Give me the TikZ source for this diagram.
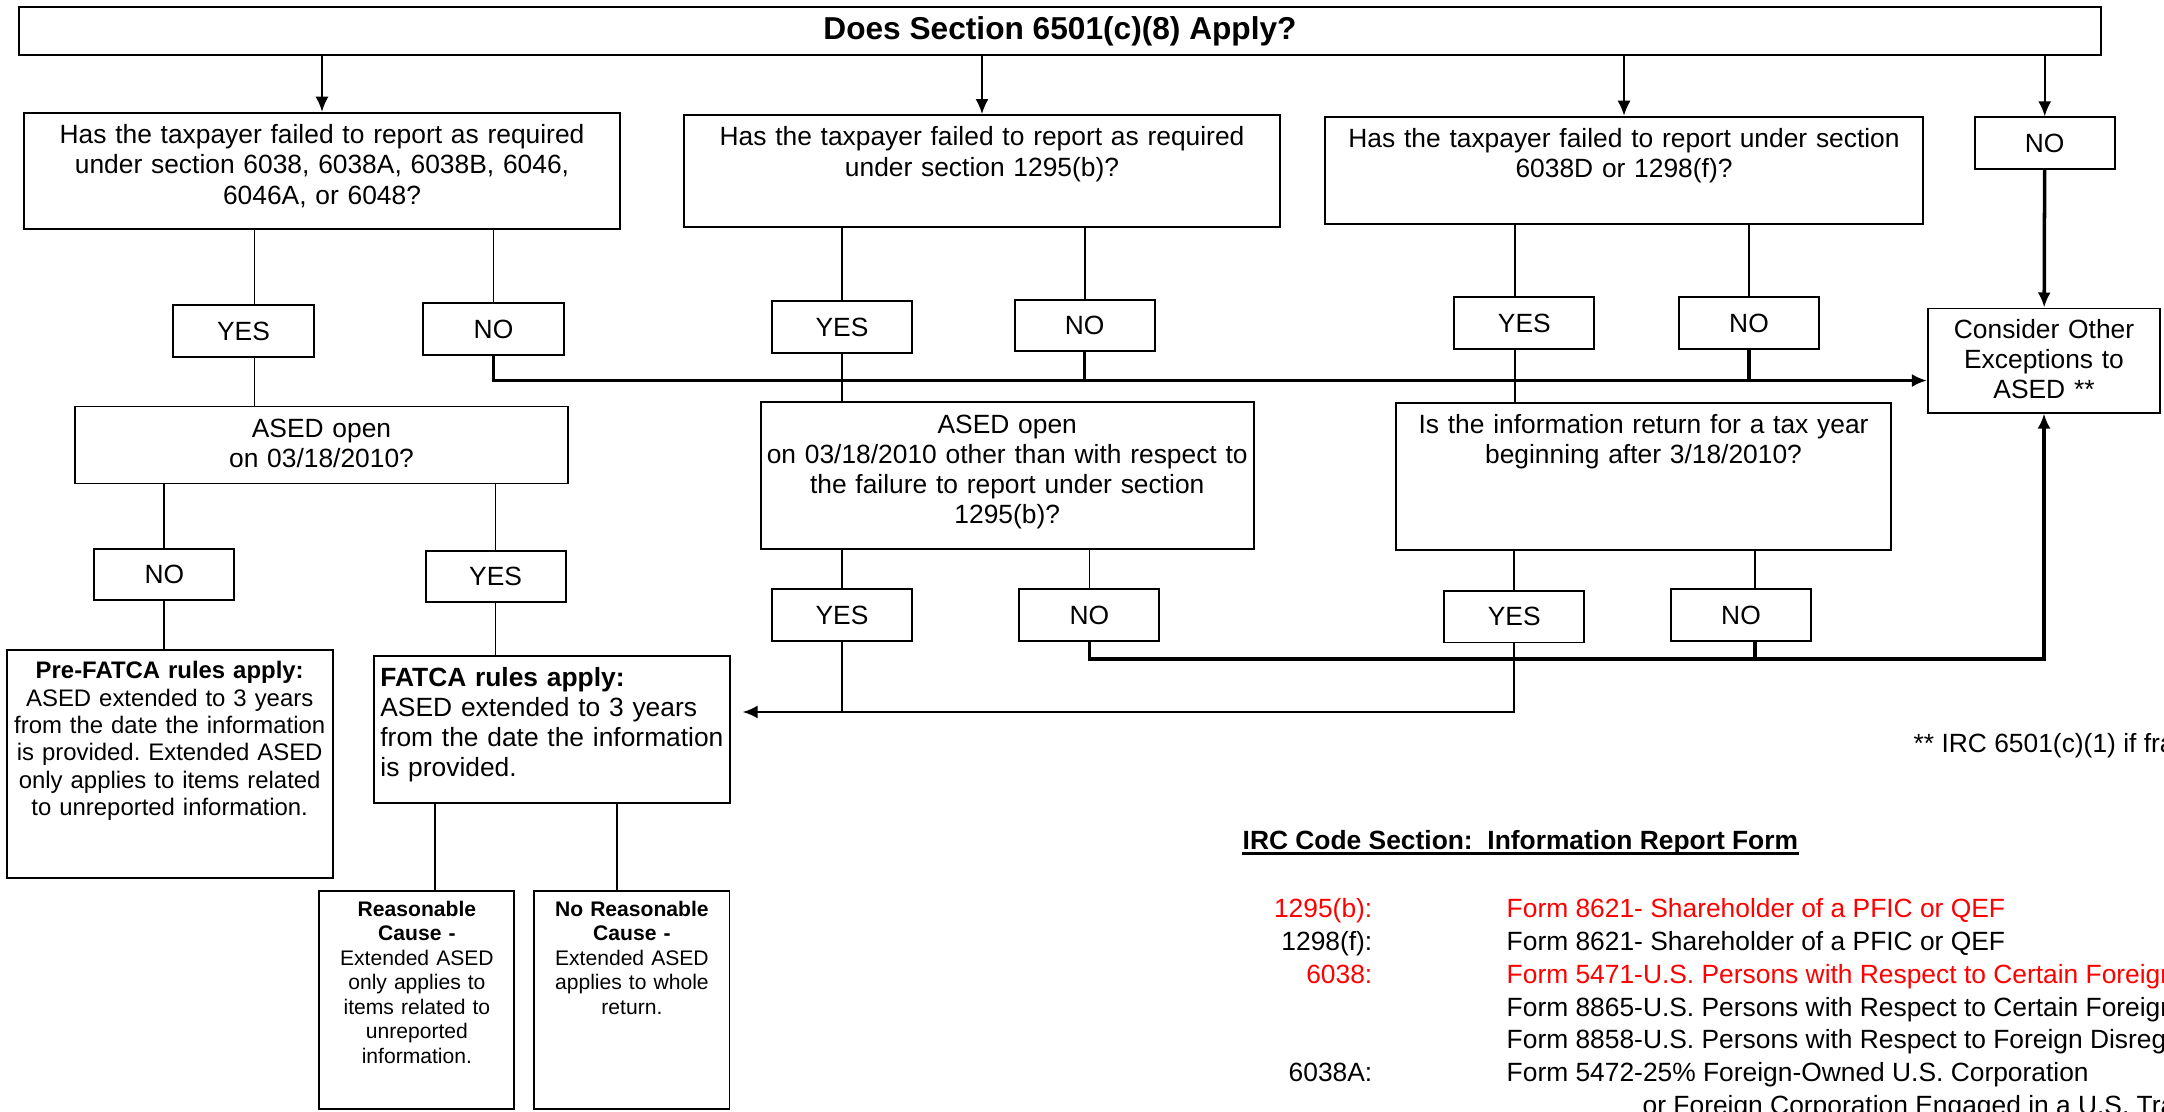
\documentclass[tikz,border=0pt]{standalone}
\usepackage{fontspec}
\setmainfont{Liberation Sans}
\usepackage{tikz}
\usetikzlibrary{arrows.meta}
\definecolor{formred}{RGB}{255,0,0}
\frenchspacing
\newcommand\boxfont{\fontsize{7.5}{8.6}\selectfont}
\newcommand\prefont{\fontsize{6.8}{7.8}\selectfont}
\newcommand\causefont{\fontsize{6}{6.95}\selectfont}
\tikzstyle{box} = [draw, line width=0.55pt, inner sep=0pt, align=center]
\tikzstyle{question} = [box, anchor=north, font=\boxfont, text height=0.31cm]
\tikzstyle{answer} = [box, font=\boxfont, minimum width=1.40cm, minimum height=0.515cm]
\tikzstyle{link} = [line width=0.5pt]
\tikzstyle{bus} = [line width=1pt]
\tikzstyle{listtext} = [inner sep=0pt, font=\boxfont]

\begin{document}
\begin{tikzpicture}[x=0.01cm, y=-0.01cm, >={Latex[length=0.15cm,width=0.13cm]}]
\useasboundingbox (0,0) rectangle (2164,1111);
\clip (0,0) rectangle (2164,1111);

% top level
\node[box, font=\fontsize{9}{10.8}\selectfont\bfseries, minimum width=20.80cm, minimum height=0.48cm] (title) at (1060,31) {Does Section 6501(c)(8) Apply?};
\node[question, text width=5.95cm, text depth=0.85cm] (q1) at (322,111.7) {Has the taxpayer failed to report as required\\under section 6038, 6038A, 6038B, 6046,\\6046A, or 6048?};
\node[question, text width=5.95cm, text depth=0.81cm] (q2) at (982,114) {Has the taxpayer failed to report as required\\under section 1295(b)?};
\node[question, text width=5.97cm, text depth=0.76cm] (q3) at (1624,115.7) {Has the taxpayer failed to report under section\\6038D or 1298(f)?};
\node[answer] (notop) at (2044.7,143) {NO};
\node[question, text width=2.32cm, text height=0.30cm, text depth=0.74cm] (consider) at (2044,307.5) {Consider Other\\Exceptions to\\ASED **};
\coordinate (busA) at ([yshift=-0.2cm]consider.west);

% yes / no after the first questions
\node[answer] (yes1) at (243.5,331) {YES};
\node[answer] (no1) at (493.5,329) {NO};
\node[answer] (yes2) at (842,327) {YES};
\node[answer] (no2) at (1084.7,325.3) {NO};
\node[answer] (yes3) at (1524.3,323) {YES};
\node[answer] (no3) at (1749,323) {NO};

% second questions
\node[question, text width=4.93cm, text depth=0.46cm] (ased1) at (321.5,405.5) {ASED open\\on 03/18/2010?};
\node[question, text width=4.93cm, text depth=1.16cm] (ased2) at (1007.2,401) {ASED open\\on 03/18/2010 other than with respect to\\the failure to report under section\\1295(b)?};
\node[question, text width=4.94cm, text depth=1.16cm] (q4) at (1643.5,401.7) {Is the information return for a tax year\\beginning after 3/18/2010?};

\node[answer] (no4) at (164.3,574.3) {NO};
\node[answer] (yes4) at (495.6,576.4) {YES};
\node[answer] (yes5) at (842,615) {YES};
\node[answer] (no5) at (1089.4,615) {NO};
\node[answer] (yes6) at (1514.2,616.7) {YES};
\node[answer] (no6) at (1741,615) {NO};
\coordinate (busB) at ([yshift=-0.17cm]no5.south);
\coordinate (busC) at ([yshift=-0.685cm]yes6.south);

% outcomes
\node[question, font=\prefont, text height=0.29cm, text width=3.26cm, text depth=1.99cm] (pre) at (169.7,648.6) {\textbf{Pre-FATCA rules apply:}\\ASED extended to 3 years\\from the date the information\\is provided. Extended ASED\\only applies to items related\\to unreported information.};
\node[question, align=left, inner xsep=0.06cm, text height=0.30cm, text width=3.43cm, text depth=1.17cm] (fatca) at (552,655) {\textbf{FATCA rules apply:}\\ASED extended to 3 years\\from the date the information\\is provided.};
\node[question, font=\causefont, text height=0.255cm, text width=1.95cm, text depth=1.925cm] (reas) at (416.9,890) {\textbf{Reasonable}\\\textbf{Cause -}\\Extended ASED\\only applies to\\items related to\\unreported\\information.};
\node[question, font=\causefont, text height=0.255cm, text width=1.95cm, text depth=1.925cm] (noreas) at (631.9,890) {\textbf{No Reasonable}\\\textbf{Cause -}\\Extended ASED\\applies to whole\\return.};

% title arrows
\draw[link,->] (title.south -| q1.north) -- (q1.north);
\draw[link,->] (title.south -| q2.north) -- (q2.north);
\draw[link,->] (title.south -| q3.north) -- (q3.north);
\draw[link,->] (title.south -| notop.north) -- (notop.north);
\draw[bus,->] (notop) -- (consider);

% first question
\draw[link] ([xshift=0.11cm]yes1.north) -- ([xshift=0.11cm]yes1.north |- q1.south);
\draw[link] (q1.south -| no1) -- (no1);
\draw[link] ([xshift=0.11cm]yes1.south) -- ([xshift=0.11cm]yes1.south |- ased1.north);
\draw[bus,->] (no1.south) |- (busA);

% second question
\draw[link] (q2.south -| yes2) -- (yes2);
\draw[link] (q2.south -| no2) -- (no2);
\draw[link] (yes2) -- (yes2 |- ased2.north);
\draw[bus] (no2) -- (no2 |- busA);

% third question
\draw[link] ([xshift=-0.09cm]yes3.north) -- ([xshift=-0.09cm]yes3.north |- q3.south);
\draw[link] (q3.south -| no3) -- (no3);
\draw[link] ([xshift=-0.09cm]yes3.south) -- ([xshift=-0.09cm]yes3.south |- q4.north);
\draw[bus] (no3) -- (no3 |- busA);

% ased open
\draw[link] (ased1.south -| no4) -- (no4);
\draw[link] (ased1.south -| yes4) -- (yes4);
\draw[link] (no4) -- (no4 |- pre.north);
\draw[link] (yes4) -- (yes4 |- fatca.north);

\draw[link] (ased2.south -| yes5) -- (yes5);
\draw[link] (ased2.south -| no5) -- (no5);
\draw[link] (yes5) -- (yes5 |- busC);
\draw[bus,->] (no5.south) -- (busB) -| (consider.south);

\draw[link] (q4.south -| yes6) -- (yes6);
\draw[link] ([xshift=0.14cm]no6.north) -- ([xshift=0.14cm]no6.north |- q4.south);
\draw[bus] ([xshift=0.14cm]no6.south) -- ([xshift=0.14cm]no6.south |- busB);
\draw[link, line width=0.7pt, ->] (yes6.south) |- ([xshift=0.12cm]fatca.east |- busC);

% fatca causes
\draw[link] ([xshift=0.18cm]reas.north) -- ([xshift=0.18cm]reas.north |- fatca.south);
\draw[link] ([xshift=-0.15cm]noreas.north) -- ([xshift=-0.15cm]noreas.north |- fatca.south);

% notes and form list
\node[listtext, anchor=base west] (note) at (1913,752) {** IRC 6501(c)(1) if fraud};
\node[listtext, anchor=base west, font=\boxfont\bfseries] (head) at (1242,849) {IRC Code Section:~~Information Report Form};
\draw[line width=0.8pt] ([yshift=-0.045cm]head.base west) -- ([yshift=-0.045cm]head.base east);

\node[listtext, anchor=base east, text=formred] (sec1) at (1373,917) {1295(b):};
\node[listtext, anchor=base west, text=formred] (form1) at (1506,917) {Form 8621- Shareholder of a PFIC or QEF};
\node[listtext, anchor=base east] (sec2) at (1373,950) {1298(f):};
\node[listtext, anchor=base west] (form2) at (1506,950) {Form 8621- Shareholder of a PFIC or QEF};
\node[listtext, anchor=base east, text=formred] (sec3) at (1373,983) {6038:};
\node[listtext, anchor=base west, text=formred] (form3) at (1506,983) {Form 5471-U.S. Persons with Respect to Certain Foreign};
\node[listtext, anchor=base west] (form4) at (1506,1016) {Form 8865-U.S. Persons with Respect to Certain Foreign};
\node[listtext, anchor=base west] (form5) at (1506,1048) {Form 8858-U.S. Persons with Respect to Foreign Disregarded};
\node[listtext, anchor=base east] (sec6) at (1373,1081) {6038A:};
\node[listtext, anchor=base west] (form6) at (1506,1081) {Form 5472-25\% Foreign-Owned U.S. Corporation};
\node[listtext, anchor=base west] (form7) at (1642,1114) {or Foreign Corporation Engaged in a U.S. Trade};
\end{tikzpicture}
\end{document}
